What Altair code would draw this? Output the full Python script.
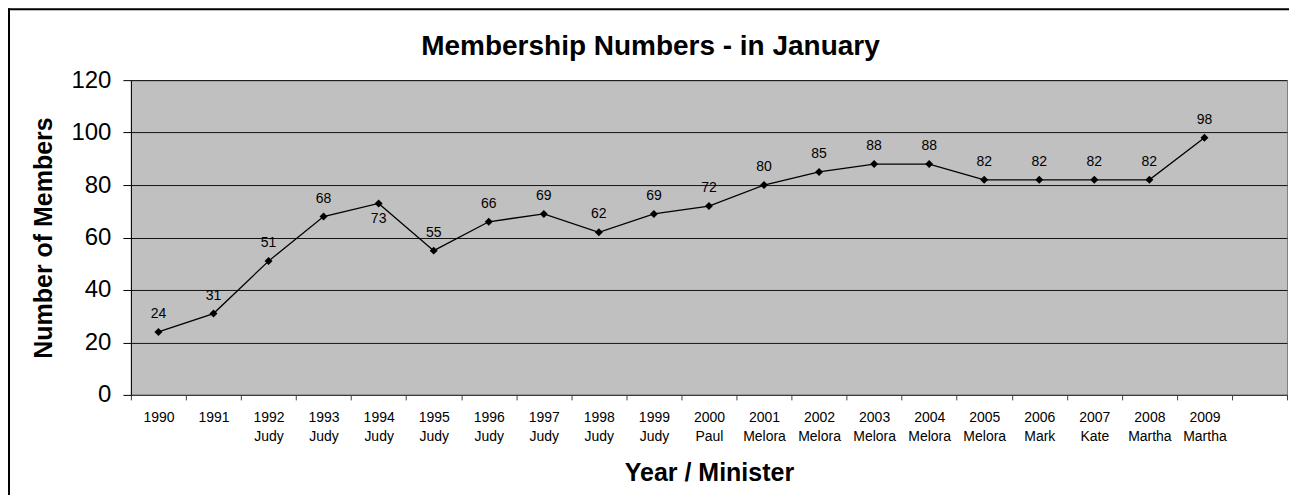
import altair as alt
import pandas as pd

years = ["1990", "1991", "1992", "1993", "1994", "1995", "1996", "1997", "1998", "1999",
         "2000", "2001", "2002", "2003", "2004", "2005", "2006", "2007", "2008", "2009"]
ministers = ["", "", "Judy", "Judy", "Judy", "Judy", "Judy", "Judy", "Judy", "Judy",
             "Paul", "Melora", "Melora", "Melora", "Melora", "Melora", "Mark", "Kate", "Martha", "Martha"]
members = [24, 31, 51, 68, 73, 55, 66, 69, 62, 69, 72, 80, 85, 88, 88, 82, 82, 82, 82, 98]
labels_below = ["1994"]
title_text = "Membership Numbers - in January"

cats = [f"{y}|{m}" if m else y for y, m in zip(years, ministers)]
domain = cats + ["~"]  # trailing empty category slot
df = pd.DataFrame({"cat": cats, "members": members, "year": years})

FONT = "Arial, Liberation Sans, Helvetica, sans-serif"

x_enc = alt.X(
    "cat:N",
    sort=domain,
    bandPosition=0.5,
    scale=alt.Scale(domain=domain, type="band", paddingInner=0, paddingOuter=0),
    axis=alt.Axis(
        title="Year / Minister",
        titleFont=FONT, titleFontSize=25, titleFontWeight="bold", titleColor="black",
        titleBaseline="middle", titleY=78,
        labelExpr="(!isString(datum.value) || datum.value == '~') ? '' : split(datum.value, '|')",
        labelAngle=0, labelFont=FONT, labelFontSize=14, labelColor="black",
        labelLineHeight=19, labelPadding=11,
        tickBand="extent", tickSize=5, tickColor="#404040", domainColor="#404040",
        grid=False,
    ),
)
y_enc = alt.Y(
    "members:Q",
    scale=alt.Scale(domain=[0, 120], nice=False),
    axis=alt.Axis(
        title="Number of Members",
        titleFont=FONT, titleFontSize=25, titleFontWeight="bold", titleColor="black",
        titleBaseline="alphabetic", titleX=-79,
        values=[0, 20, 40, 60, 80, 100, 120],
        labelFont=FONT, labelFontSize=24, labelColor="black", labelPadding=12,
        tickSize=8, tickColor="black", domainColor="black",
        grid=True, gridColor="#000000", gridWidth=1, gridOpacity=0.9,
    ),
)

base = alt.Chart(df)

line = base.mark_line(color="black", strokeWidth=1.3).encode(x=x_enc, y=y_enc)
pts = base.mark_point(shape="diamond", filled=True, color="black", size=64, opacity=1).encode(x=x_enc, y=y_enc)
lab_above = base.mark_text(font=FONT, fontSize=14, color="black", baseline="middle", dy=-18).encode(
    x=x_enc, y=y_enc, text="members:Q"
).transform_filter(f"indexof({labels_below!r}, datum.year) < 0")
lab_below = base.mark_text(font=FONT, fontSize=14, color="black", baseline="middle", dy=16).encode(
    x=x_enc, y=y_enc, text="members:Q"
).transform_filter(f"indexof({labels_below!r}, datum.year) >= 0")

one = alt.Data(values=[{}])
frame_left = alt.Chart(one).mark_rule(color="black", strokeWidth=2).encode(
    x=alt.value(-122), y=alt.value(-72), y2=alt.value(430))
frame_top = alt.Chart(one).mark_rule(color="black", strokeWidth=2).encode(
    x=alt.value(-123), x2=alt.value(1180), y=alt.value(-71))
title = alt.Chart(one).mark_text(
    text=title_text, font=FONT, fontSize=28, fontWeight="bold", color="black",
    align="center", baseline="middle"
).encode(x=alt.value(520), y=alt.value(-33))

chart = alt.layer(line, pts, lab_above, lab_below, frame_left, frame_top, title).properties(
    width=1157, height=315,
    autosize="none",
    background="white",
    padding={"left": 123, "top": 72, "right": 2, "bottom": 100},
).configure_view(
    fill="#C0C0C0", stroke="#808080", strokeWidth=1
)

chart.save("out.html", embed_options={"renderer": "svg", "actions": False})
